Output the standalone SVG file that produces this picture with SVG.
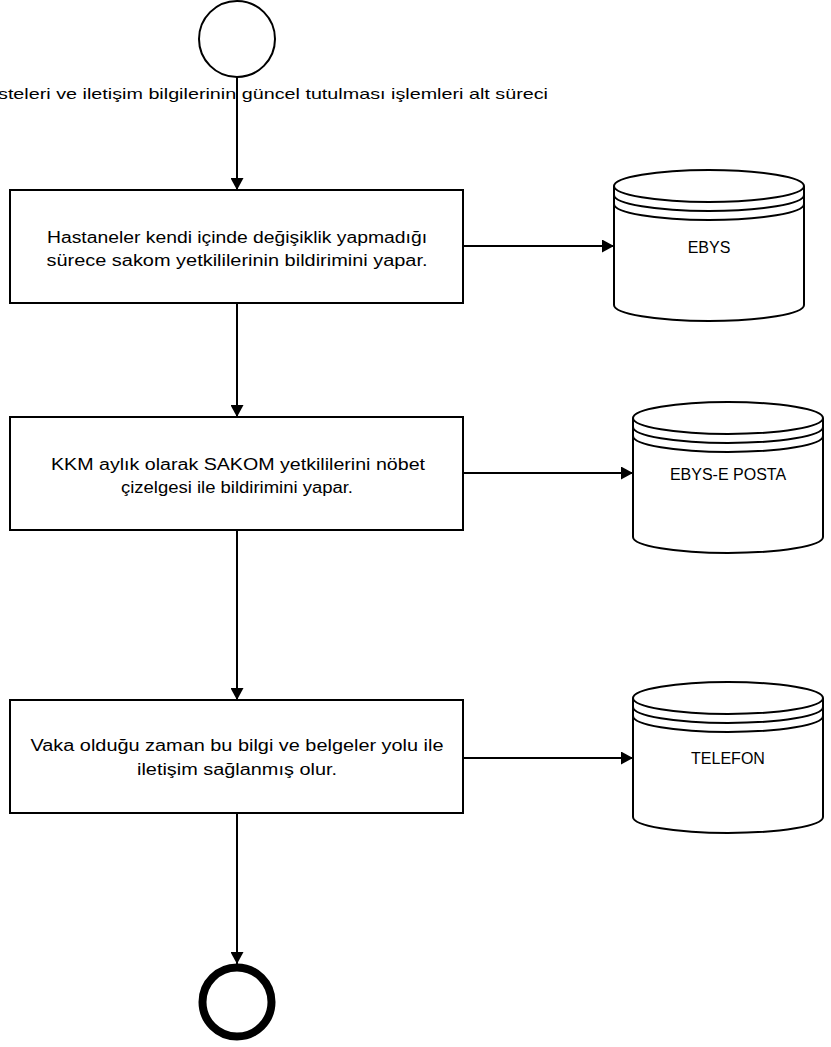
<svg xmlns="http://www.w3.org/2000/svg" width="831" height="1047" viewBox="0 0 831 1047">
<style>
.box{fill:#fff;stroke:#000;stroke-width:2}
.cyl{fill:#fff;stroke:#000;stroke-width:2}
.ring{fill:none;stroke:#000;stroke-width:2}
.conn{fill:none;stroke:#000;stroke-width:2}
text{font-family:"Liberation Sans",Arial,sans-serif;fill:#000}
.t{font-size:16px;text-anchor:middle}
.lbl{font-size:15px}
</style>
<defs>
<marker id="arr" markerUnits="userSpaceOnUse" markerWidth="13" markerHeight="13" refX="12" refY="6.5" orient="auto">
<path d="M0,0 L12,6.5 L0,13 z" fill="#000"/>
</marker>
<g id="cylshape">
<path class="cyl" d="M0,16 L0,135 A95,16 0 0 0 190,135 L190,16"/>
<ellipse class="cyl" cx="95" cy="16" rx="95" ry="16"/>
<path class="ring" d="M0,25 A95,16 0 0 0 190,25 M0,34 A95,16 0 0 0 190,34"/>
</g>
</defs>
<rect width="831" height="1047" fill="#fff"/>

<g id="connectors">
<line class="conn" x1="237" y1="77" x2="237" y2="190" marker-end="url(#arr)"/>
<line class="conn" x1="237" y1="303" x2="237" y2="417" marker-end="url(#arr)"/>
<line class="conn" x1="237" y1="530" x2="237" y2="700" marker-end="url(#arr)"/>
<line class="conn" x1="237" y1="813" x2="237" y2="964" marker-end="url(#arr)"/>
<line class="conn" x1="463" y1="246" x2="614" y2="246" marker-end="url(#arr)"/>
<line class="conn" x1="463" y1="473" x2="633" y2="473" marker-end="url(#arr)"/>
<line class="conn" x1="463" y1="758" x2="633" y2="758" marker-end="url(#arr)"/>
</g>

<g id="start">
<circle cx="237" cy="39" r="38" fill="#fff" stroke="#000" stroke-width="2"/>
<text class="lbl" x="-2" y="99" textLength="550" lengthAdjust="spacingAndGlyphs">steleri ve iletişim bilgilerinin güncel tutulması işlemleri alt süreci</text>
</g>

<g id="box1">
<rect class="box" x="10" y="190" width="453" height="113"/>
<text class="t" x="237" y="243" textLength="380" lengthAdjust="spacingAndGlyphs">Hastaneler kendi içinde değişiklik yapmadığı</text>
<text class="t" x="237" y="266" textLength="381" lengthAdjust="spacingAndGlyphs">sürece sakom yetkililerinin bildirimini yapar.</text>
</g>

<g id="box2">
<rect class="box" x="10" y="417" width="453" height="113"/>
<text class="t" x="238" y="470" textLength="374" lengthAdjust="spacingAndGlyphs">KKM aylık olarak SAKOM yetkililerini nöbet</text>
<text class="t" x="237" y="493" textLength="232" lengthAdjust="spacingAndGlyphs">çizelgesi ile bildirimini yapar.</text>
</g>

<g id="box3">
<rect class="box" x="10" y="700" width="453" height="113"/>
<text class="t" x="237" y="751" textLength="413" lengthAdjust="spacingAndGlyphs">Vaka olduğu zaman bu bilgi ve belgeler yolu ile</text>
<text class="t" x="237" y="775" textLength="200" lengthAdjust="spacingAndGlyphs">iletişim sağlanmış olur.</text>
</g>

<g id="ebys">
<use href="#cylshape" transform="translate(614,170)"/>
<text class="t" x="709" y="253">EBYS</text>
</g>

<g id="ebys-eposta">
<use href="#cylshape" transform="translate(633,402)"/>
<text class="t" x="728" y="480">EBYS-E POSTA</text>
</g>

<g id="telefon">
<use href="#cylshape" transform="translate(633,682)"/>
<text class="t" x="728" y="764">TELEFON</text>
</g>

<g id="end">
<circle cx="237" cy="1002" r="34.5" fill="#fff" stroke="#000" stroke-width="8"/>
</g>
</svg>
